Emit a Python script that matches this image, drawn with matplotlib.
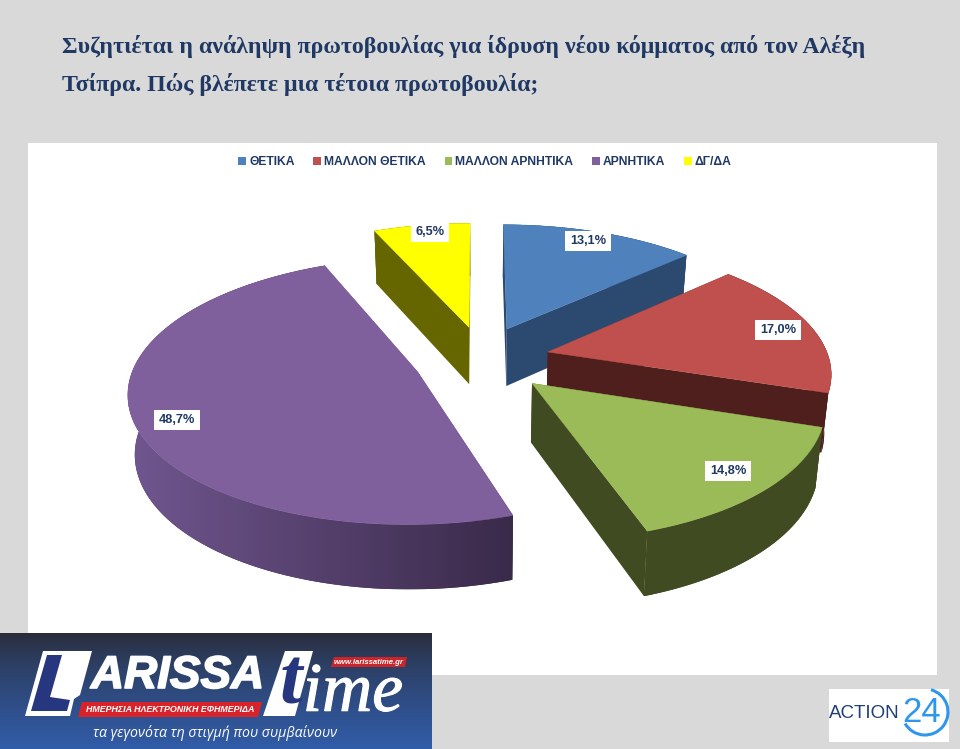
import numpy as np
import matplotlib
matplotlib.use("Agg")
import matplotlib.pyplot as plt
import matplotlib.patheffects as pe
from matplotlib.patches import Patch, Polygon, Rectangle, Arc
from matplotlib.colors import to_rgb

# data
labels = ["ΘΕΤΙΚΑ", "ΜΑΛΛΟΝ ΘΕΤΙΚΑ", "ΜΑΛΛΟΝ ΑΡΝΗΤΙΚΑ", "ΑΡΝΗΤΙΚΑ", "ΔΓ/ΔΑ"]
values = [13.1, 17.0, 14.8, 48.7, 6.5]
value_labels = ["13,1%", "17,0%", "14,8%", "48,7%", "6,5%"]

title = ("Συζητιέται η ανάληψη πρωτοβουλίας για ίδρυση νέου κόμματος από τον Αλέξη\n"
         "Τσίπρα. Πώς βλέπετε μια τέτοια πρωτοβουλία;")

# styles and layout
top_colors = ["#4F81BD", "#C0504D", "#9BBB59", "#7F609D", "#FFFF00"]
wall_colors = [("#2C4A6F", "#2C4A6F"), ("#4E1F1C", "#4E1F1C"), ("#414B22", "#414B22"),
               ("#70568F", "#3A2A4A"), ("#666600", "#666600")]
navy = "#1F3864"
banner_blue = "#26377F"
# explosion of every slice on the pie plane
offsets = [(0.106, 0.212), (0.25, 0.024), (0.187, -0.218), (-0.212, -0.13), (-0.033, 0.227)]
label_xy = [(588, 241), (778, 330), (728, 471), (177, 420), (430, 232)]
draw_order = [4, 0, 3, 1, 2]
CX, CY, A, B, K = 478, 355, 280, 126, 0.142
DEPTH = 58


def project(x, y):
    s = 1 / (1 + K * y)
    return CX + A * x * s, CY - B * y * s


def lower(px, py):
    # bottom of the wall under a point of the top face
    return CX + (px - CX) * 0.98, py + DEPTH + (py - CY) * 0.04


def draw_slice(ax, start, end, offset, top, walls):
    theta = np.radians(np.linspace(start, end, 120))
    ox, oy = offset
    xs, ys = project(ox + np.sin(theta), oy + np.cos(theta))
    ax0, ay0 = project(ox, oy)
    bx, by = lower(xs, ys)
    abx, aby = lower(ax0, ay0)
    # cut faces
    for i in (0, -1):
        ax.add_patch(Polygon([(ax0, ay0), (xs[i], ys[i]), (bx[i], by[i]), (abx, aby)],
                             fc=walls[1] if i == 0 else walls[0], ec="none", zorder=2))
    # outer wall, shaded from left to right
    outline = np.r_[np.c_[xs, ys], np.c_[bx, by][::-1]]
    wall = Polygon(outline, fc=walls[1], ec="none", zorder=2)
    ax.add_patch(wall)
    c0, c1 = np.array(to_rgb(walls[0])), np.array(to_rgb(walls[1]))
    ramp = np.linspace(0, 1, 64)[None, :, None]
    img = ax.imshow(c0 + (c1 - c0) * ramp, extent=(min(xs.min(), bx.min()), max(xs.max(), bx.max()), by.max(), ys.min()),
                    aspect="auto", zorder=2)
    img.set_clip_path(wall)
    ax.add_patch(Polygon(np.r_[[(ax0, ay0)], np.c_[xs, ys]], fc=top, ec=top, lw=0.3, zorder=2))


plt.rcParams["font.family"] = ["Liberation Sans", "DejaVu Sans"]
fig = plt.figure(figsize=(9.6, 7.49), dpi=100, facecolor="#D9D9D9")
ax = fig.add_axes([0, 0, 1, 1])
ax.axis("off")

ax.text(62, 65.5, title, family="Liberation Serif", weight="bold", fontsize=17.2, color=navy,
        va="center", ha="left", linespacing=1.78)

ax.add_patch(Rectangle((28, 143), 909, 532, fc="white", ec="none", zorder=1))

# pie
angles = np.cumsum([0] + values) / sum(values) * 360
for i in draw_order:
    # each slice is drawn in turn so that the nearer ones overlap the others
    draw_slice(ax, angles[i], angles[i + 1], offsets[i], top_colors[i], wall_colors[i])

for i, txt in enumerate(value_labels):
    ax.text(label_xy[i][0], label_xy[i][1], txt, fontsize=9.2, weight="bold", color=navy, ha="center", va="center",
            zorder=5, bbox=dict(fc="white", ec="none", pad=3.2))

handles = [Patch(fc=c, ec="none") for c in top_colors]
ax.legend(handles, labels, ncol=5, loc="center", bbox_to_anchor=(485 / 960, 1 - 162 / 749), frameon=False,
          prop={"family": "Liberation Sans", "weight": "bold", "size": 8.7}, labelcolor=navy,
          handlelength=0.65, handleheight=0.7, handletextpad=0.25, columnspacing=1.55)

# newspaper banner
grad = np.linspace(0, 1, 116)[:, None, None] ** 0.7
c_top, c_bot = np.array(to_rgb("#2A2B36")), np.array(to_rgb("#315CA8"))
ax.imshow(c_top + (c_bot - c_top) * grad, extent=(0, 432, 749, 633), aspect="auto", zorder=6)
ax.add_patch(Polygon([(43, 651), (92, 651), (80, 695), (74, 699), (70, 716), (25, 716)],
                     fc="white", ec="none", zorder=7))
ax.add_patch(Polygon([(47, 655), (62, 655), (50, 697), (70, 700), (67, 711), (31, 711)],
                     fc=banner_blue, ec="none", zorder=8))
ax.text(91, 676, "ARISSA", family="Liberation Sans", style="italic", weight="bold",
        fontsize=33, color="white", ha="left", va="center", zorder=8,
        path_effects=[pe.withStroke(linewidth=1.2, foreground="white")])
ax.add_patch(Polygon([(82, 702), (262, 702), (258, 717), (78, 717)], fc="#D8232A", ec="none", zorder=9))
ax.text(170, 709.5, "ΗΜΕΡΗΣΙΑ ΗΛΕΚΤΡΟΝΙΚΗ ΕΦΗΜΕΡΙΔΑ", family="Liberation Sans", style="italic", weight="bold",
        fontsize=6.4, color="white", ha="center", va="center", zorder=10)
ax.add_patch(Polygon([(285, 651), (313, 651), (295, 716), (263, 716)], fc="white", ec="none", zorder=8))
ax.text(291, 684, "t", family="Liberation Serif", style="italic", weight="bold", fontsize=58, color=banner_blue,
        ha="center", va="center", zorder=9)
ax.text(353, 694, "ime", family="Liberation Serif", style="italic", fontsize=50, color="white",
        ha="center", va="center", zorder=8, path_effects=[pe.withStroke(linewidth=0.8, foreground="white")])
ax.add_patch(Polygon([(334, 657), (407, 657), (405, 667), (331, 667)], fc="#C9252B", ec="none", zorder=9))
ax.text(369, 662, "www.larissatime.gr", family="Liberation Sans", style="italic", weight="bold", fontsize=5.6,
        color="white", ha="center", va="center", zorder=10)
ax.text(215, 733, "τα γεγονότα τη στιγμή που συμβαίνουν", family="Open Sans", style="italic", fontsize=10.2,
        color="white", ha="center", va="center", zorder=8)

# action 24 logo
ax.add_patch(Rectangle((829, 689), 120, 53, fc="white", ec="none", zorder=6))
ax.text(864, 713, "ACTION", family="Liberation Sans", fontsize=13.5, color="#1F3F77", ha="center", va="center",
        zorder=7)
ax.text(922, 712, "24", family="Liberation Sans", fontsize=25, color="#2F96EE", ha="center", va="center", zorder=7)
ax.add_patch(Arc((925, 712), 46, 46, theta1=-75, theta2=150, color="#2F96EE", lw=2.2, zorder=7))

# imshow resets the limits, so fix the pixel frame at the end
ax.set_xlim(0, 960)
ax.set_ylim(749, 0)

fig.savefig("out.png", dpi=100, facecolor=fig.get_facecolor())
